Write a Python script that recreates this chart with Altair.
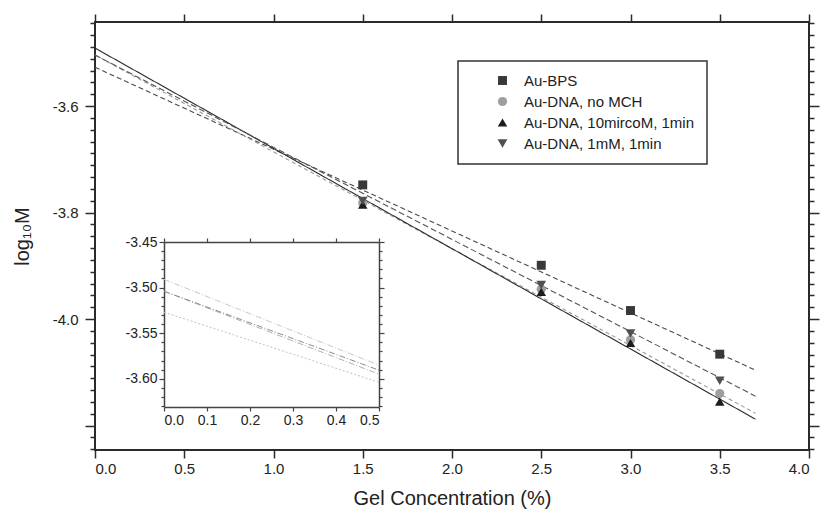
import altair as alt
import pandas as pd

# ---------------- data ----------------
series = ["Au-BPS", "Au-DNA, no MCH", "Au-DNA, 10mircoM, 1min", "Au-DNA, 1mM, 1min"]
conc = [1.5, 2.5, 3.0, 3.5]
y_bps = [-3.748, -3.899, -3.984, -4.066]
y_nomch = [-3.782, -3.944, -4.039, -4.140]
y_10um = [-3.785, -3.949, -4.045, -4.155]
y_1mm = [-3.778, -3.936, -4.027, -4.116]

fit_intercept = [-3.527, -3.504, -3.491, -3.504]
fit_slope = [-0.1538, -0.1819, -0.1884, -0.1732]
fit_x_range = [0.0, 3.7]
inset_x_range = [0.0, 0.5]

x_ticks = [0.0, 0.5, 1.0, 1.5, 2.0, 2.5, 3.0, 3.5, 4.0]
inset_x_ticks = [0.0, 0.1, 0.2, 0.3, 0.4, 0.5]

# ---------------- styles ----------------
marker_shapes = ["square", "circle", "triangle-up", "triangle-down"]
marker_colors = ["#383838", "#9e9e9e", "#1c1c1c", "#505050"]
marker_sizes = [80, 95, 110, 110]
line_colors = ["#4a4a4a", "#9a9a9a", "#2a2a2a", "#555555"]
line_dashes = [[5, 3], [4, 3], [1, 0], [6, 3]]
inset_colors = ["#c2c2c2", "#b0b0b0", "#c8c8c8", "#8c8c8c"]
inset_dashes = [[2, 2], [6, 2, 1, 2], [6, 2, 1, 2], [6, 2, 1, 2]]

FONT = "Liberation Sans"
INK = "#2b2b2b"

# ---------------- frames ----------------
ys_values = {"Au-BPS": y_bps, "Au-DNA, no MCH": y_nomch,
             "Au-DNA, 10mircoM, 1min": y_10um, "Au-DNA, 1mM, 1min": y_1mm}
points_df = pd.DataFrame([
    {"series": s, "x": c, "y": v}
    for s in series for c, v in zip(conc, ys_values[s])
])
lines_df = pd.DataFrame([
    {"series": s, "x": xv, "y": b + m * xv}
    for s, b, m in zip(series, fit_intercept, fit_slope) for xv in fit_x_range
])
inset_df = pd.DataFrame([
    {"series": s, "x": xv, "y": b + m * xv}
    for s, b, m in zip(series, fit_intercept, fit_slope) for xv in inset_x_range
])

# y ticks (major every 0.2, 8 minor between)
y_ticks = [round(-4.2 + k * 0.2 / 9, 5) for k in range(-2, 36)]
y_ticks = [v for v in y_ticks if -4.246 <= v <= -3.442]
inset_y_ticks = [round(-3.45 - k * 0.01, 4) for k in range(0, 19)]

major_y = "abs(datum.value*5 - round(datum.value*5)) < 0.001"
major_iy = "abs(datum.value*20 - round(datum.value*20)) < 0.001"

xs = alt.Scale(domain=[0, 4], nice=False, zero=False)
ys = alt.Scale(domain=[-4.246, -3.442], nice=False, zero=False)

axis_common = dict(domain=False, grid=False, tickColor=INK, tickWidth=1.5,
                   labelFont=FONT, labelColor="#222", labelFontSize=15,
                   titleFont=FONT, titleColor="#222", titleFontWeight="normal")

x_bottom = alt.Axis(orient="bottom", values=x_ticks, format=".1f",
                    title="Gel Concentration (%)", tickSize=8, labelPadding=3,
                    titleFontSize=20, titlePadding=12, **axis_common)
x_top = alt.Axis(orient="top", values=x_ticks, labels=False, title=None,
                 tickSize=8, **axis_common)
y_left = alt.Axis(orient="left", values=y_ticks, title="log₁₀M",
                  labelExpr=f"({major_y}) && datum.value > -4.1 ? '-' + format(abs(datum.value), '.1f') : ''",
                  tickSize={"condition": {"test": major_y, "value": 10}, "value": 5},
                  labelPadding=7, titleFontSize=20, titlePadding=20, **axis_common)
y_right = alt.Axis(orient="right", values=y_ticks, labels=False, title=None,
                   tickSize={"condition": {"test": major_y, "value": 10}, "value": 5},
                   **axis_common)

legend = alt.Legend(title=None, orient="none", legendX=363, legendY=39,
                    padding=12, strokeColor="#333", labelFont=FONT,
                    labelFontSize=15, labelColor="#222", symbolOffset=25,
                    labelOffset=14, rowPadding=5, symbolSize=100,
                    symbolStrokeWidth=0, labelLimit=500,
                    labelExpr="datum.label + '" + "\u00a0" * 9 + "'")

lines = alt.Chart(lines_df).mark_line(strokeWidth=1.1).encode(
    x=alt.X("x:Q", scale=xs, axis=x_bottom),
    y=alt.Y("y:Q", scale=ys, axis=y_left),
    stroke=alt.Stroke("series:N", scale=alt.Scale(domain=series, range=line_colors), legend=None),
    strokeDash=alt.StrokeDash("series:N", scale=alt.Scale(domain=series, range=line_dashes), legend=None),
    detail="series:N",
)

points = alt.Chart(points_df).mark_point(filled=True, opacity=1).encode(
    x=alt.X("x:Q", scale=xs, axis=x_top),
    y=alt.Y("y:Q", scale=ys, axis=y_right),
    color=alt.Color("series:N", scale=alt.Scale(domain=series, range=marker_colors), legend=legend),
    shape=alt.Shape("series:N", scale=alt.Scale(domain=series, range=marker_shapes), legend=legend),
    size=alt.Size("series:N", scale=alt.Scale(domain=series, range=marker_sizes), legend=None),
)

main = alt.layer(lines, points).resolve_axis(x="independent", y="independent")

# ---------------- inset ----------------
ixs = alt.Scale(domain=[0, 0.5], range=[69, 284], nice=False, zero=False)
iys = alt.Scale(domain=[-3.631, -3.45], range=[385, 220], nice=False, zero=False)

inset_axis_common = dict(grid=False, domain=True, domainColor="#444", domainWidth=1.5,
                         tickColor="#444", tickWidth=1.2, labelFont=FONT,
                         labelColor="#222", labelFontSize=14, title=None)

ix_bottom = alt.Axis(orient="bottom", values=inset_x_ticks, format=".1f", offset=-43,
                     tickSize=4, labelPadding=2, **inset_axis_common)
ix_top = alt.Axis(orient="top", values=inset_x_ticks, labels=False, offset=-220,
                  tickSize=4, **inset_axis_common)
iy_left = alt.Axis(orient="left", values=inset_y_ticks, offset=-69,
                   labelExpr=f"({major_iy}) ? '-' + format(abs(datum.value), '.2f') : ''",
                   tickSize={"condition": {"test": major_iy, "value": 5}, "value": 3},
                   labelPadding=2, **inset_axis_common)
iy_right = alt.Axis(orient="right", values=inset_y_ticks, labels=False, offset=-430,
                    tickSize={"condition": {"test": major_iy, "value": 5}, "value": 3},
                    **inset_axis_common)

inset_lines = alt.Chart(inset_df).mark_line(strokeWidth=1.0).encode(
    x=alt.X("x:Q", scale=ixs, axis=ix_bottom),
    y=alt.Y("y:Q", scale=iys, axis=iy_left),
    stroke=alt.Stroke("series:N", scale=alt.Scale(domain=series, range=inset_colors), legend=None),
    strokeDash=alt.StrokeDash("series:N", scale=alt.Scale(domain=series, range=inset_dashes), legend=None),
    detail="series:N",
)
inset_frame = alt.Chart(inset_df).mark_line(strokeOpacity=0).encode(
    x=alt.X("x:Q", scale=ixs, axis=ix_top),
    y=alt.Y("y:Q", scale=iys, axis=iy_right),
    detail="series:N",
)
inset = alt.layer(inset_lines, inset_frame).resolve_axis(x="independent", y="independent")

chart = alt.layer(main, inset).resolve_scale(
    x="independent", y="independent", stroke="independent", strokeDash="independent"
).properties(
    width=714, height=428,
    autosize=alt.AutoSizeParams(type="none"),
    padding={"left": 95, "top": 22, "right": 13, "bottom": 70},
    background="white",
).configure_view(stroke=INK, strokeWidth=2).configure_legend(strokeWidth=1.5)

chart.save("out.html", embed_options={"renderer": "svg", "actions": False})
